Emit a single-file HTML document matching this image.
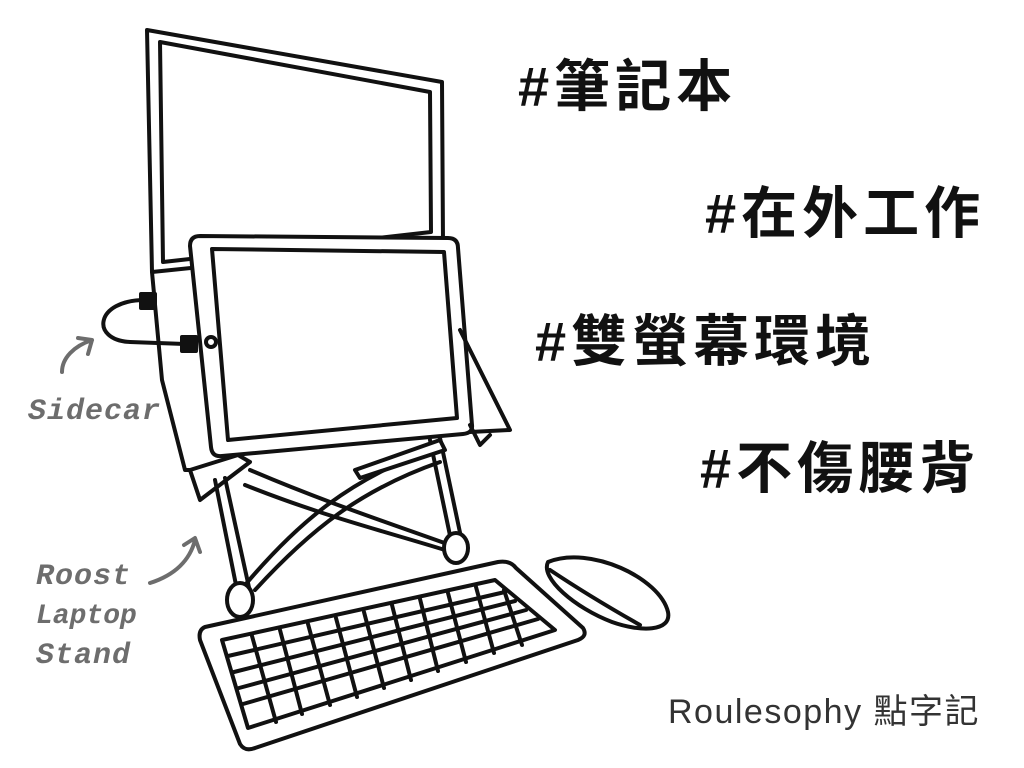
<!DOCTYPE html>
<html><head><meta charset="utf-8"><style>
html,body{margin:0;padding:0;background:#fff;width:1024px;height:768px;overflow:hidden}
svg{display:block}
.t{font-family:"Liberation Sans","Noto Sans CJK TC",sans-serif;font-weight:700;fill:#111;letter-spacing:5px}
.g{font-family:"Liberation Mono","DejaVu Sans Mono",monospace;font-style:italic;font-weight:700;fill:#6d6d6d}
</style></head><body>
<svg width="1024" height="768" viewBox="0 0 1024 768">
<g fill="none" stroke="#111" stroke-width="4" stroke-linejoin="round" stroke-linecap="round">
 <g>
  <path d="M147,30 L442,82 L443,242 L152,272 Z" fill="#fff"/>
  <path d="M160,42 L430,92 L431,232 L163,262 Z"/>
  <path d="M152,272 L162,380 L185,470 L200,470"/>
 </g>
 <g>
  <path d="M145,300 C95,300 90,340 130,342 L185,344"/>
  <rect x="141" y="294" width="14" height="14" fill="#111"/>
  <rect x="182" y="337" width="14" height="14" fill="#111"/>
 </g>
 <g>
  <path d="M200,236 L448,238 Q458,238 458,248 L472,425 Q473,433 463,434 L222,456 Q212,457 211,447 L190,246 Q190,236 200,236 Z" fill="#fff"/>
  <path d="M212,249 L444,252 L457,418 L228,440 Z"/>
  <circle cx="211" cy="342" r="5"/>
  <path d="M460,330 L510,430 L470,432"/>
 </g>
 <g>
  <path d="M190,470 L238,455 L250,462 L200,500 Z" fill="#fff"/>
  <path d="M215,480 L238,595"/><path d="M225,478 L250,592"/>
  <path d="M430,440 L452,545"/><path d="M440,438 L462,542"/>
  <path d="M250,470 C320,500 380,520 450,545"/><path d="M245,485 C320,515 380,530 445,550"/>
  <path d="M430,450 C350,480 300,520 245,585"/><path d="M440,462 C360,490 310,530 255,590"/>
  <path d="M355,470 L440,440 L445,450 L360,478 Z" fill="#fff"/>
  <path d="M470,425 L480,445 L490,435"/>
  <ellipse cx="240" cy="600" rx="13" ry="17" fill="#fff"/>
  <ellipse cx="456" cy="548" rx="12" ry="15" fill="#fff"/>
 </g>
 <g>
  <path d="M205,627 L498,562 Q510,560 516,568 L583,628 Q588,636 578,640 L255,748 Q245,752 240,744 L200,640 Q198,630 205,627 Z" fill="#fff"/>
  <path d="M222,640 L495,580 L555,630 L248,728 Z"/>
  <path d="M228,656 L505,592 M234,672 L515,601 M239,688 L526,610 M243,704 L538,619"/>
  <path d="M252,636 L276,722 M280,630 L302,714 M308,624 L330,705 M336,618 L357,697 M364,612 L384,688 M392,605 L411,680 M420,599 L438,671 M448,593 L466,662 M476,587 L494,653 M504,590 L522,645"/>
 </g>
 <g>
  <path d="M548,562 C590,545 660,578 668,612 C672,632 640,632 612,622 C575,608 540,578 548,562 Z" fill="#fff"/>
  <path d="M550,570 C580,590 610,608 640,625"/>
 </g>
 <g stroke="#6d6d6d" stroke-width="4">
  <path d="M62,372 C62,358 74,346 92,340 M78,338 L92,340 L88,354"/>
  <path d="M150,583 C175,575 190,560 195,540 M184,545 L195,538 L200,552"/>
 </g>
</g>
<text class="t" x="518" y="106" font-size="56">#筆記本</text>
<text class="t" x="705" y="233" font-size="56">#在外工作</text>
<text class="t" x="535" y="361" font-size="56">#雙螢幕環境</text>
<text class="t" x="700" y="488" font-size="56">#不傷腰背</text>
<text x="668" y="723" font-size="34" letter-spacing="1.5" fill="#333" font-family="'Liberation Sans','Noto Sans CJK TC',sans-serif">Roulesophy 點字記</text>
<text class="g" x="28" y="419" font-size="30" letter-spacing="1">Sidecar</text>
<text class="g" x="36" y="584" font-size="30" letter-spacing="1">Roost</text>
<text class="g" x="36" y="623" font-size="28" letter-spacing="0">Laptop</text>
<text class="g" x="36" y="663" font-size="30" letter-spacing="1">Stand</text>
</svg>
</body></html>
